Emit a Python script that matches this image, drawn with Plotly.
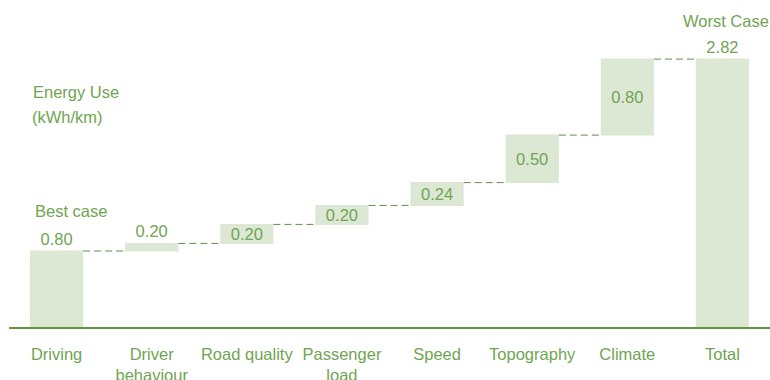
import plotly.graph_objects as go

categories = ["Driving", "Driver<br>behaviour", "Road quality", "Passenger<br>load",
              "Speed", "Topography", "Climate", "Total"]
# drawn bar heights (kWh/km)
values = [0.80, 0.08, 0.20, 0.20, 0.24, 0.50, 0.80, 0]
measures = ["relative"] * 7 + ["total"]
# printed labels (as shown in the chart)
labels = ["0.80", "0.20", "0.20", "0.20", "0.24", "0.50", "0.80", "2.82"]
label_pos = ["outside", "outside", "inside", "inside", "inside", "inside", "inside", "outside"]

BAR = "#dce8d4"
TXT = "#6fa552"
AXIS = "#5f963c"
CONN = "#5f8f45"
FONT = "Liberation Sans, Arial, sans-serif"
FS = 16.5

fig = go.Figure(go.Waterfall(
    x=categories,
    y=values,
    measure=measures,
    text=labels,
    textposition=label_pos,
    insidetextanchor="middle",
    constraintext="none",
    textfont=dict(family=FONT, size=FS, color=TXT),
    insidetextfont=dict(family=FONT, size=FS, color=TXT),
    outsidetextfont=dict(family=FONT, size=FS, color=TXT),
    increasing=dict(marker=dict(color=BAR, line=dict(width=0))),
    totals=dict(marker=dict(color=BAR, line=dict(width=0))),
    decreasing=dict(marker=dict(color=BAR, line=dict(width=0))),
    connector=dict(mode="between", line=dict(color=CONN, width=1, dash="7px,4px")),
    cliponaxis=False,
    hoverinfo="skip",
))

L, T, B, W, H = 9, 0, 53, 770, 380
PH = H - T - B
PW = W - L
def px(x):
    return (x - L) / PW
def py(y):
    return (T + PH - y) / PH

ann = dict(xref="paper", yref="paper", showarrow=False,
           font=dict(family=FONT, size=FS, color=TXT))
fig.update_layout(
    width=W, height=H,
    margin=dict(l=L, r=0, t=T, b=B, autoexpand=False),
    paper_bgcolor="white", plot_bgcolor="white",
    showlegend=False,
    waterfallgap=0.44,
    xaxis=dict(showline=True, linecolor=AXIS, linewidth=1.5, showgrid=False,
               ticks="", ticklabelstandoff=11, automargin=False,
               tickfont=dict(family=FONT, size=FS, color=TXT),
               range=[-0.5, 7.5]),
    yaxis=dict(visible=False, range=[0, PH / 95.0], showgrid=False, zeroline=False,
               automargin=False),
    annotations=[
        dict(text="Energy Use", x=px(31), y=py(91.7), xanchor="left", yanchor="middle", **ann),
        dict(text="(kWh/km)", x=px(30), y=py(117.3), xanchor="left", yanchor="middle", **ann),
        dict(text="Best case", x=px(70.8), y=py(210.7), xanchor="center", yanchor="middle", **ann),
        dict(text="Worst Case", x=px(725.5), y=py(20.7), xanchor="center", yanchor="middle", **ann),
    ],
)

fig.write_html("out.html")
